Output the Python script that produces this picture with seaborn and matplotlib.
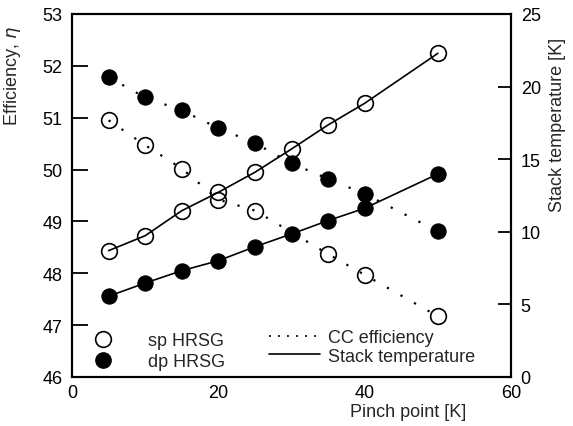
import matplotlib
matplotlib.use('Agg')
import matplotlib.pyplot as plt
import seaborn as sns
import pandas as pd
from matplotlib.lines import Line2D

# ---- data ----
pinch = [5, 10, 15, 20, 25, 30, 35, 40, 50]
pinch_sp_eff = [5, 10, 15, 20, 25, 35, 40, 50]
sp_eff = [50.95, 50.47, 50.02, 49.42, 49.21, 48.37, 47.97, 47.17]
dp_eff = [51.78, 51.39, 51.14, 50.80, 50.51, 50.12, 49.82, 49.53, 48.81]
sp_temp = [8.70, 9.73, 11.45, 12.72, 14.10, 15.70, 17.36, 18.85, 22.29]
dp_temp = [5.56, 6.47, 7.32, 8.01, 8.97, 9.85, 10.77, 11.62, 13.98]

x_ticks = [0, 20, 40, 60]
eff_ticks = [46, 47, 48, 49, 50, 51, 52, 53]
temp_ticks = [0, 5, 10, 15, 20, 25]

sns.set_style('ticks')
plt.rcParams['font.family'] = ['Liberation Sans', 'DejaVu Sans']
plt.rcParams['mathtext.fontset'] = 'dejavusans'
FS = 13

fig = plt.figure(figsize=(5.73, 4.27), dpi=100)
ax = fig.add_axes([0.1257, 0.1148, 0.7661, 0.8501])
ax2 = ax.twinx()

dotted = (0, (1, 6))
open_kw = dict(marker='o', markersize=11.3, markerfacecolor='none',
               markeredgecolor='black', markeredgewidth=1.2)
fill_kw = dict(marker='o', markersize=11, markerfacecolor='black',
               markeredgecolor='black')

df_sp_eff = pd.DataFrame({'x': pinch_sp_eff, 'y': sp_eff})
df_dp_eff = pd.DataFrame({'x': pinch, 'y': dp_eff})
df_sp_t = pd.DataFrame({'x': pinch, 'y': sp_temp})
df_dp_t = pd.DataFrame({'x': pinch, 'y': dp_temp})

sns.lineplot(data=df_sp_eff, x='x', y='y', ax=ax, color='black', lw=1.6,
             linestyle=dotted, legend=False, **open_kw)
sns.lineplot(data=df_dp_eff, x='x', y='y', ax=ax, color='black', lw=1.6,
             linestyle=dotted, legend=False, **fill_kw)
sns.lineplot(data=df_sp_t, x='x', y='y', ax=ax2, color='black', lw=1.2,
             linestyle='-', legend=False, **open_kw)
sns.lineplot(data=df_dp_t, x='x', y='y', ax=ax2, color='black', lw=1.2,
             linestyle='-', legend=False, **fill_kw)

ax.set_xlim(0, 60)
ax.set_ylim(46, 53)
ax2.set_ylim(0, 25)
ax.set_xticks(x_ticks)
ax.set_yticks(eff_ticks)
ax2.set_yticks(temp_ticks)

ax.tick_params(axis='y', direction='in', length=11.5, width=1.3, pad=7,
               labelsize=FS, colors='black')
ax.tick_params(axis='x', length=0, pad=5, labelsize=FS, colors='black')
ax2.tick_params(axis='y', direction='in', length=9.5, width=1.3, pad=7,
                labelsize=FS, colors='black')
for a in (ax, ax2):
    for s in a.spines.values():
        s.set_visible(True)
        s.set_linewidth(1.5)
        s.set_color('black')

ax.set_xlabel('Pinch point [K]', fontsize=FS)
ax.xaxis.set_label_coords(0.765, -0.072)
ax.set_ylabel('Efficiency, $\\eta$', fontsize=FS)
ax.yaxis.set_label_coords(-0.112, 0.832)
ax2.set_ylabel('Stack temperature [K]', fontsize=FS, rotation=90)
ax2.yaxis.set_label_coords(1.086, 0.697)

h1 = [Line2D([], [], linestyle='none', **open_kw),
      Line2D([], [], linestyle='none', **fill_kw)]
leg1 = ax.legend(h1, ['sp HRSG', 'dp HRSG'], loc='upper left',
                 bbox_to_anchor=(0.050, 0.124), frameon=False, fontsize=FS,
                 borderpad=0, borderaxespad=0, handlelength=1.0,
                 handletextpad=2.0, labelspacing=0.25)
ax.add_artist(leg1)
h2 = [Line2D([], [], color='black', lw=1.3, linestyle=(0, (1, 4))),
      Line2D([], [], color='black', lw=1.2, linestyle='-')]
ax.legend(h2, ['CC efficiency', 'Stack temperature'], loc='upper left',
          bbox_to_anchor=(0.449, 0.132), frameon=False, fontsize=FS,
          borderpad=0, borderaxespad=0, handlelength=2.83,
          handletextpad=0.45, labelspacing=0.08)

fig.savefig('out.png', dpi=100)
